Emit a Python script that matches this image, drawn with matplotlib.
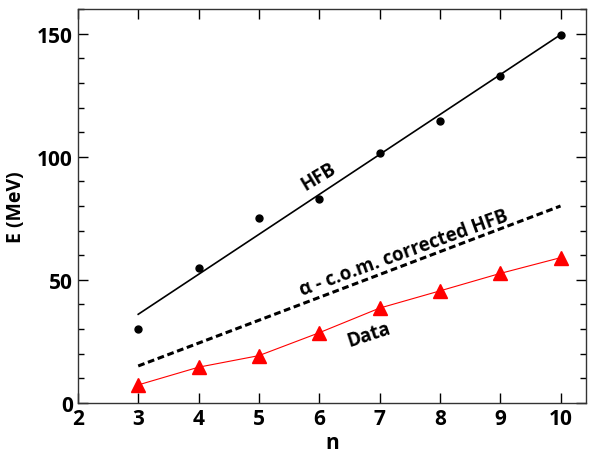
import matplotlib
matplotlib.use("Agg")
import matplotlib.pyplot as plt
from matplotlib.ticker import MultipleLocator
from matplotlib import font_manager as fm

n = [3, 4, 5, 6, 7, 8, 9, 10]
hfb_points = [30, 54.7, 75, 83, 101.7, 114.6, 132.7, 149.6]
hfb_line_n = [3, 10]
hfb_line_e = [36, 149.6]
corr_n = [3, 10]
corr_e = [15, 80]
data_e = [7.3, 14.5, 19.2, 28.5, 38.5, 45.5, 52.6, 59]

# pick an upright bold static font file
bold_path = None
for fam in ['Open Sans', 'Noto Sans', 'Lato', 'Roboto', 'DejaVu Sans']:
    for f in fm.fontManager.ttflist:
        w = f.weight if isinstance(f.weight, int) else (700 if f.weight == 'bold' else 400)
        if f.name == fam and f.style == 'normal' and w == 700 and '[' not in f.fname:
            bold_path = f.fname
            break
    if bold_path:
        break

def fp(size):
    if bold_path:
        return fm.FontProperties(fname=bold_path, size=size)
    return fm.FontProperties(family='DejaVu Sans', weight='bold', size=size)

fig = plt.figure(figsize=(5.9, 4.6), dpi=100)
ax = fig.add_axes([0.132, 0.122, 0.861, 0.856])

ax.plot(hfb_line_n, hfb_line_e, color='black', lw=1.2)
ax.plot(n, hfb_points, 'o', color='black', ms=5)
ax.plot(corr_n, corr_e, color='black', lw=2.2, ls=(0, (2.2, 1.2)))
ax.plot(n, data_e, '-', color='red', lw=0.8)
ax.plot(n, data_e, '^', color='red', ms=9.5)

kw = dict(ha='left', va='baseline', rotation_mode='anchor', fontproperties=fp(13.5))
ax.text(5.77, 86.5, 'HFB', rotation=31, **kw)
ax.text(5.72, 43.8, 'α - c.o.m. corrected HFB', rotation=20, **kw)
ax.text(6.5, 23.0, 'Data', rotation=18, **kw)

ax.set_xlim(2, 10.42)
ax.set_ylim(0, 160)
ax.xaxis.set_major_locator(MultipleLocator(1))
ax.yaxis.set_major_locator(MultipleLocator(50))
ax.yaxis.set_minor_locator(MultipleLocator(10))
ax.tick_params(which='both', direction='in', top=True, right=True)
ax.tick_params(which='major', length=7, width=1)
ax.tick_params(which='minor', length=4, width=1)
for lbl in ax.get_xticklabels() + ax.get_yticklabels():
    lbl.set_fontproperties(fp(15))
for s in ax.spines.values():
    s.set_linewidth(1.0)
    s.set_color('#333333')
ax.set_xlabel('n', fontproperties=fp(15), labelpad=2)
ax.set_ylabel('E (MeV)', fontproperties=fp(14), labelpad=8)

fig.savefig('out.png', dpi=100)
